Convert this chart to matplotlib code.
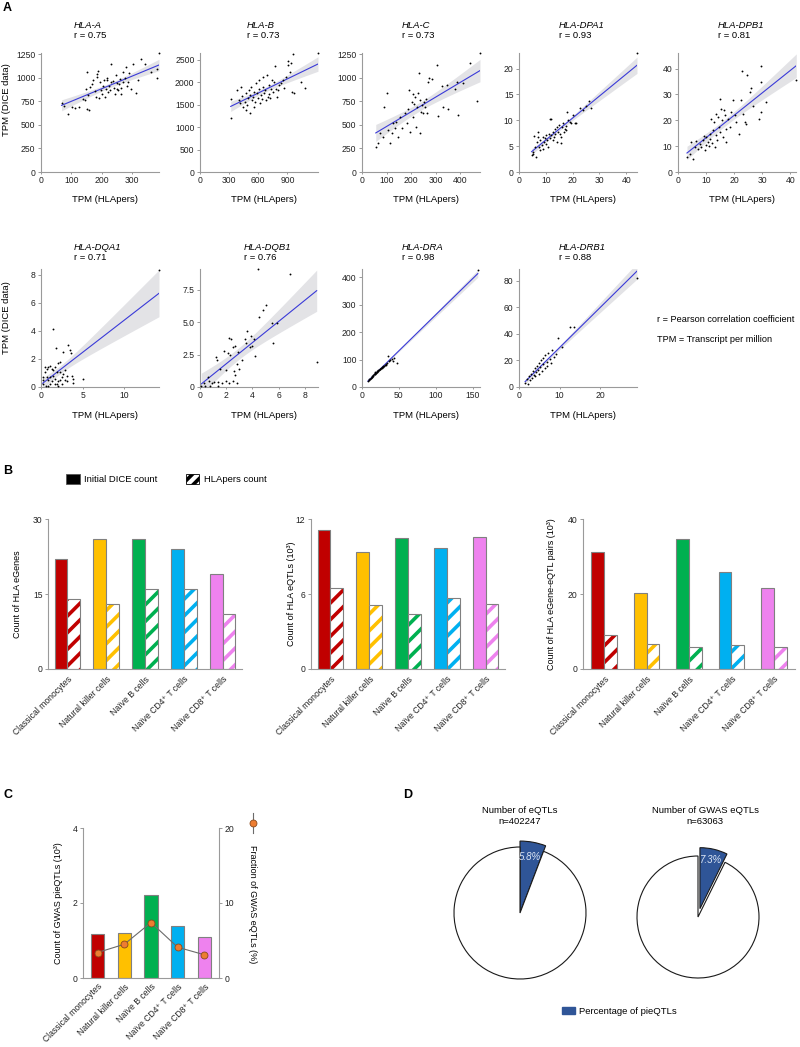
import numpy as np
import matplotlib
matplotlib.use("Agg")
import matplotlib.pyplot as plt
from matplotlib.patches import Patch
from matplotlib.lines import Line2D

plt.rcParams['font.family'] = ['Liberation Sans', 'DejaVu Sans']
plt.rcParams['font.size'] = 6.5
plt.rcParams['hatch.linewidth'] = 2.6

W, H = 800, 1047

# ---------------- panel A: TPM HLApers vs TPM DICE ----------------
hla_a_x = [68, 90, 77, 101, 112, 127, 140, 145, 153, 148, 156, 162, 160, 153, 167, 171, 178, 182, 184, 186,
           189, 195, 193, 199, 202, 206, 208, 211, 215, 217, 219, 222, 226, 228, 231, 233, 239, 242, 244, 248,
           250, 252, 255, 258, 261, 264, 266, 270, 272, 277, 281, 283, 288, 292, 299, 314, 305, 321, 332, 343,
           365, 382, 385, 390]
hla_a_y = [733, 612, 697, 690, 683, 690, 779, 761, 1062, 885, 814, 903, 655, 666, 938, 973, 860, 796, 1009, 1037,
           1069, 956, 789, 867, 832, 910, 973, 796, 885, 1002, 980, 850, 910, 874, 1144, 956, 963, 896, 832, 1027,
           885, 945, 867, 931, 991, 832, 896, 1062, 956, 1002, 1115, 910, 956, 1051, 885, 839, 1150, 973, 1204, 1150,
           1062, 1097, 1002, 1265]

hla_b_x = [316, 323, 381, 402, 408, 425, 435, 442, 459, 469, 476, 483, 493, 503, 510, 517, 527, 537, 544, 551,
           561, 571, 578, 585, 595, 605, 612, 619, 629, 636, 646, 653, 663, 673, 680, 690, 697, 707, 714, 721,
           731, 741, 748, 765, 775, 782, 792, 799, 816, 833, 850, 867, 884, 901, 911, 925, 935, 952, 958, 969,
           1037, 1081, 1215]
hla_b_y = [1619, 1194, 1828, 1604, 1529, 1902, 1694, 1455, 1567, 1753, 1380, 1492, 1641, 1828, 1306, 1716, 1887, 1604, 1678, 1455,
           1790, 1567, 1977, 1753, 1641, 1843, 2052, 1529, 1716, 1619, 1902, 2111, 1753, 1828, 1604, 2163, 1678, 1940, 1738, 1641,
           1843, 2052, 1790, 2015, 2365, 1843, 1678, 1828, 1940, 1977, 2052, 1865, 2126, 2387, 2462, 2238, 2424, 1790, 2620, 1753,
           2015, 1865, 2650]

hla_c_x = [56, 64, 100, 90, 73, 87, 107, 121, 127, 134, 114, 148, 138, 155, 161, 175, 182, 188, 193, 195,
           202, 206, 209, 212, 216, 220, 223, 229, 234, 236, 239, 243, 250, 252, 256, 260, 263, 232, 270, 274,
           283, 304, 324, 328, 345, 351, 311, 385, 378, 392, 412, 440, 469, 480]
hla_c_y = [268, 304, 840, 688, 413, 374, 445, 410, 516, 463, 304, 374, 533, 586, 463, 622, 516, 675, 869, 427,
           745, 834, 586, 728, 798, 480, 692, 845, 763, 416, 639, 710, 622, 745, 692, 781, 622, 1053, 957, 1004,
           993, 1142, 912, 692, 922, 675, 594, 957, 877, 604, 946, 1158, 752, 1265]

hla_dpa1_x = [5.3, 6.5, 5.9, 6.8, 7.2, 7.5, 7.8, 8.0, 8.4, 8.8, 9.0, 9.3, 9.6, 10.0, 10.2, 10.5, 10.9, 11.2, 11.5, 11.7,
              12.1, 12.5, 12.7, 13.0, 13.3, 13.6, 14.0, 14.2, 14.6, 14.9, 15.2, 15.6, 15.8, 16.2, 16.4, 16.7, 17.0, 17.4, 17.7, 18.0,
              18.3, 18.9, 19.5, 20.1, 20.7, 21.4, 22.6, 23.8, 25.1, 26.0, 26.9, 4.7, 5.1, 5.6, 7.2, 12.1, 44.0]
hla_dpa1_y = [3.9, 2.9, 4.8, 5.8, 6.8, 4.8, 4.2, 6.1, 5.2, 6.8, 4.5, 5.8, 6.5, 5.5, 7.1, 6.1, 4.8, 7.4, 6.5, 10.3,
              7.1, 7.7, 6.1, 6.8, 8.4, 7.4, 5.8, 8.7, 7.7, 9.0, 7.4, 6.8, 5.6, 8.7, 9.4, 7.7, 8.4, 8.8, 8.2, 11.6,
              10.0, 9.7, 9.4, 11.0, 9.5, 9.4, 12.3, 11.9, 12.7, 13.7, 12.3, 3.2, 3.5, 6.9, 7.7, 10.3, 23.0]

hla_dpb1_x = [3.2, 5.3, 4.2, 4.7, 6.3, 5.9, 7.1, 7.7, 8.3, 8.9, 9.5, 9.1, 9.8, 10.1, 10.7, 11.0, 11.3, 11.5, 11.9, 12.2,
              12.5, 12.7, 13.0, 13.4, 13.6, 13.9, 14.2, 14.6, 14.8, 15.1, 15.4, 15.8, 16.0, 16.3, 16.6, 17.0, 17.2, 17.8, 18.4, 19.0,
              19.6, 20.2, 20.8, 21.7, 22.5, 23.1, 23.7, 24.3, 22.9, 24.6, 25.5, 26.1, 26.7, 28.8, 29.7, 29.7, 29.7, 31.4, 42.1]
hla_dpb1_y = [5.8, 5.2, 7.1, 11.6, 12.0, 9.7, 9.0, 11.0, 9.7, 12.3, 8.4, 13.8, 10.3, 13.5, 11.6, 9.9, 14.8, 12.9, 20.6, 11.2,
              16.1, 19.4, 9.7, 14.2, 22.6, 12.3, 21.3, 17.4, 28.4, 15.5, 24.5, 20.0, 13.5, 23.9, 21.9, 16.8, 11.6, 20.6, 17.4, 23.2,
              27.7, 21.9, 19.4, 14.8, 28.0, 22.6, 19.4, 18.7, 39.2, 37.4, 31.0, 32.6, 25.4, 20.3, 23.2, 34.8, 40.9, 27.1, 35.5]

hla_dqa1_x = [1.5, 1.8, 3.3, 3.5, 3.6, 2.7, 2.3, 0.7, 0.9, 1.1, 1.3, 1.5, 1.7, 1.9, 2.1, 0.5, 0.7, 0.9, 1.1, 1.3,
              1.5, 1.7, 1.9, 2.1, 2.3, 2.5, 2.7, 2.9, 3.1, 2.5, 3.1, 0.3, 0.2, 0.6, 0.9, 1.1, 1.7, 2.1, 2.9, 3.7,
              3.8, 3.9, 5.0, 0.3, 0.5, 2.3, 14.2]
hla_dqa1_y = [4.1, 2.8, 3.0, 2.6, 2.4, 2.5, 1.8, 1.3, 1.4, 1.5, 1.3, 1.2, 1.4, 1.1, 1.7, 1.1, 0.7, 0.5, 0.7, 0.4,
              0.8, 0.6, 0.2, 0.4, 0.5, 0.7, 0.9, 1.2, 0.8, 0.2, 0.4, 0.2, 0.5, 0.1, 0.1, 0.2, 0.2, 0.1, 0.5, 0.8,
              0.6, 0.3, 0.6, 0.7, 1.4, 1.1, 8.3]

hla_dqb1_x = [4.4, 6.9, 5.0, 4.8, 4.5, 5.5, 5.9, 5.6, 3.6, 3.4, 3.5, 3.9, 4.1, 4.0, 3.8, 4.2, 2.2, 2.4, 1.8, 2.1,
              2.3, 2.5, 2.7, 2.8, 2.9, 1.2, 1.3, 1.5, 2.0, 2.6, 2.7, 2.8, 2.5, 2.2, 2.0, 1.7, 1.4, 1.1, 0.9, 0.7,
              0.6, 0.3, 0.1, 0.4, 0.8, 1.4, 3.0, 3.2, 8.9]
hla_dqb1_y = [9.1, 8.7, 6.3, 5.9, 5.4, 4.9, 4.9, 3.4, 4.3, 3.7, 3.4, 3.9, 3.7, 3.2, 3.1, 2.4, 3.8, 3.7, 2.8, 2.6,
              2.5, 3.1, 3.2, 1.8, 2.7, 2.3, 2.1, 1.4, 1.3, 1.2, 0.9, 0.3, 0.5, 0.3, 0.5, 0.3, 0.1, 0.4, 0.3, 0.5,
              0.8, 0.3, 0.1, 0.1, 0.1, 0.4, 1.4, 2.1, 1.9]

hla_dra_x = [8, 9, 10, 11, 12, 12, 13, 14, 14, 15, 15, 16, 17, 17, 18, 18, 19, 20, 20, 21,
             22, 22, 23, 24, 24, 25, 26, 27, 27, 28, 29, 30, 31, 32, 33, 34, 35, 36, 38, 40,
             42, 44, 47, 157]
hla_dra_y = [22, 25, 28, 30, 31, 34, 35, 38, 40, 41, 44, 46, 46, 49, 50, 53, 52, 55, 58, 56,
             60, 63, 62, 64, 67, 66, 70, 69, 73, 74, 75, 78, 81, 80, 85, 88, 112, 95, 98, 103,
             94, 107, 88, 425]

hla_drb1_x = [1.5, 2.0, 2.2, 2.5, 2.8, 3.0, 3.2, 3.5, 3.7, 4.0, 4.0, 4.3, 4.5, 4.7, 5.0, 5.0, 5.2, 5.5, 5.7, 6.0,
              6.0, 6.3, 6.5, 6.8, 7.0, 7.2, 7.5, 7.8, 8.0, 8.5, 9.0, 9.7, 10.5, 12.6, 13.4, 29.0]
hla_drb1_y = [3, 6, 2, 8, 5, 10, 7, 12, 9, 14, 8, 11, 16, 13, 18, 10, 15, 20, 12, 17,
              22, 14, 24, 19, 16, 26, 21, 18, 28, 23, 25, 37, 30, 45, 45, 82]

# ---------------- panel B / C: per cell type counts ----------------
cell_types = ['Classical monocytes', 'Natural killer cells', 'Naïve B cells',
              'Naïve CD4⁺ T cells', 'Naïve CD8⁺ T cells']
cell_colors = ['#C00000', '#FFC000', '#00B050', '#00B0F0', '#EE82EE']

egenes_dice = [22, 26, 26, 24, 19]
egenes_hlapers = [14, 13, 16, 16, 11]
eqtls_dice = [11.1, 9.4, 10.5, 9.7, 10.6]
eqtls_hlapers = [6.5, 5.1, 4.4, 5.7, 5.2]
pairs_dice = [31.2, 20.3, 34.7, 26.0, 21.5]
pairs_hlapers = [9.2, 6.8, 5.9, 6.3, 5.9]

gwas_pieqtls = [1.17, 1.19, 2.21, 1.39, 1.09]
gwas_fraction = [3.4, 4.5, 7.4, 4.1, 3.1]

# ---------------- panel D: pies ----------------
pie_pct = [5.8, 7.3]
pie_titles = ['Number of eQTLs\nn=402247', 'Number of GWAS eQTLs\nn=63063']

GREY = '#9a9a9a'
TICK_FS = 6.2
LABEL_FS = 6.8


def rect(x0, y0, x1, y1):
    # pixel box -> figure fraction
    return [x0 / W, 1 - y1 / H, (x1 - x0) / W, (y1 - y0) / H]


def ftext(fig, x, y, s, **kw):
    fig.text(x / W, 1 - y / H, s, **kw)


def style_axis(ax, right=False):
    for sp in ['top', 'right', 'left', 'bottom']:
        ax.spines[sp].set_visible(False)
    for sp in (['right', 'bottom'] if right else ['left', 'bottom']):
        ax.spines[sp].set_visible(True)
        ax.spines[sp].set_color(GREY)
        ax.spines[sp].set_linewidth(0.8)
    ax.tick_params(length=2.5, width=0.7, color=GREY, labelsize=TICK_FS, pad=1.5, labelcolor='#222222')


def scatter_panel(fig, box, x, y, xlim, ylim, xticks, yticks, yticklabels=None):
    ax = fig.add_axes(rect(*box))
    x = np.asarray(x, float)
    y = np.asarray(y, float)
    n = len(x)
    b1, b0 = np.polyfit(x, y, 1)
    xs = np.linspace(x.min(), x.max(), 100)
    yh = b0 + b1 * xs
    s = np.sqrt(((y - (b0 + b1 * x)) ** 2).sum() / (n - 2))
    se = s * np.sqrt(1 / n + (xs - x.mean()) ** 2 / ((x - x.mean()) ** 2).sum())
    ax.fill_between(xs, yh - 1.99 * se, yh + 1.99 * se, color='#dcdce0', alpha=0.8, lw=0)
    ax.plot(xs, yh, color='#3a3ad8', lw=0.8)
    ax.scatter(x, y, s=1.8, c='black', lw=0, clip_on=False, zorder=3)
    ax.set_xlim(*xlim)
    ax.set_ylim(*ylim)
    ax.set_xticks(xticks)
    ax.set_yticks(yticks)
    if yticklabels:
        ax.set_yticklabels(yticklabels)
    style_axis(ax)
    ax.tick_params(axis='x', length=1.5)
    return ax


def count_panel(fig, box, solid, hatched, yticks, ylabel, ylabel_x, w=0.33):
    ax = fig.add_axes(rect(*box))
    pos = np.arange(len(cell_types))
    ax.bar(pos - w / 2, solid, w, color=cell_colors, edgecolor='#808080', lw=0.8)
    ax.bar(pos + w / 2, hatched, w, color='white', edgecolor=cell_colors, hatch='//', lw=0)
    ax.bar(pos + w / 2, hatched, w, fill=False, edgecolor='#808080', lw=0.8)
    ax.set_xlim(-0.5, len(cell_types) - 0.5)
    ax.set_ylim(0, yticks[-1])
    ax.set_yticks(yticks)
    ax.set_xticks(pos)
    ax.set_xticklabels(cell_types, rotation=45, ha='right', va='top', rotation_mode='anchor', fontsize=6.5)
    style_axis(ax)
    ax.tick_params(axis='x', length=0, pad=4)
    ftext(fig, ylabel_x, (box[1] + box[3]) / 2, ylabel, rotation=90, ha='center', va='center', fontsize=6.5)
    return ax


def main():
    fig = plt.figure(figsize=(W / 100, H / 100), dpi=100)

    # ---- A ----
    ftext(fig, 3, 8, 'A', fontsize=9, fontweight='bold', va='center')
    genes = [
        ('HLA-A', 'r = 0.75', hla_a_x, hla_a_y, (0, 390), (0, 1265), [0, 100, 200, 300], [0, 250, 500, 750, 1000, 1250], None),
        ('HLA-B', 'r = 0.73', hla_b_x, hla_b_y, (0, 1215), (0, 2650), [0, 300, 600, 900], [0, 500, 1000, 1500, 2000, 2500], None),
        ('HLA-C', 'r = 0.73', hla_c_x, hla_c_y, (0, 480), (0, 1265), [0, 100, 200, 300, 400], [0, 250, 500, 750, 1000, 1250], None),
        ('HLA-DPA1', 'r = 0.93', hla_dpa1_x, hla_dpa1_y, (0, 44), (0, 23), [0, 10, 20, 30, 40], [0, 5, 10, 15, 20], None),
        ('HLA-DPB1', 'r = 0.81', hla_dpb1_x, hla_dpb1_y, (0, 42), (0, 46), [0, 10, 20, 30, 40], [0, 10, 20, 30, 40], None),
        ('HLA-DQA1', 'r = 0.71', hla_dqa1_x, hla_dqa1_y, (0, 14.2), (0, 8.4), [0, 5, 10], [0, 2, 4, 6, 8], None),
        ('HLA-DQB1', 'r = 0.76', hla_dqb1_x, hla_dqb1_y, (0, 9.0), (0, 9.1), [0, 2, 4, 6, 8], [0, 2.5, 5.0, 7.5], ['0', '2.5', '5.0', '7.5']),
        ('HLA-DRA', 'r = 0.98', hla_dra_x, hla_dra_y, (0, 160), (0, 430), [0, 50, 100, 150], [0, 100, 200, 300, 400], None),
        ('HLA-DRB1', 'r = 0.88', hla_drb1_x, hla_drb1_y, (0, 29), (0, 89), [0, 10, 20], [0, 20, 40, 60, 80], None),
    ]
    lefts = [41, 200, 362, 519, 678, 41, 200, 362, 519]
    title_off = [33, 47, 40, 40, 40, 33, 44, 40, 40]
    for i, (g, r, x, y, xl, yl, xt, yt, ytl) in enumerate(genes):
        row = i // 5
        top, bot = (53, 172) if row == 0 else (269, 387)
        left = lefts[i]
        scatter_panel(fig, (left, top, left + 118, bot), x, y, xl, yl, xt, yt, ytl)
        gy, ry = (25, 35) if row == 0 else (248, 258)
        ftext(fig, left + title_off[i], gy, g, style='italic', fontsize=LABEL_FS, va='center')
        ftext(fig, left + title_off[i], ry, r, fontsize=LABEL_FS, va='center')
        ftext(fig, left + 64, 199 if row == 0 else 416, 'TPM (HLApers)', fontsize=LABEL_FS, ha='center', va='center')
    ftext(fig, 7, 100, 'TPM (DICE data)', rotation=90, fontsize=LABEL_FS, ha='center', va='center')
    ftext(fig, 7, 318, 'TPM (DICE data)', rotation=90, fontsize=LABEL_FS, ha='center', va='center')
    ftext(fig, 657, 320, 'r = Pearson correlation coefficient', fontsize=6.6, va='center')
    ftext(fig, 657, 340, 'TPM = Transcript per million', fontsize=6.6, va='center')

    # ---- B ----
    ftext(fig, 3, 471, 'B', fontsize=9, fontweight='bold', va='center')
    count_panel(fig, (48, 519, 242, 669), egenes_dice, egenes_hlapers, [0, 15, 30], 'Count of HLA eGenes', 18)
    count_panel(fig, (311, 519, 505, 669), eqtls_dice, eqtls_hlapers, [0, 6, 12], 'Count of HLA eQTLs (10³)', 292)
    count_panel(fig, (583, 519, 795, 669), pairs_dice, pairs_hlapers, [0, 20, 40], 'Count of HLA eGene-eQTL pairs (10³)', 552, w=0.3)
    handles = [Patch(facecolor='black', edgecolor='#555555', lw=0.6),
               Patch(facecolor='white', edgecolor='black', hatch='///', lw=0.6)]
    fig.legend(handles, ['Initial DICE count', 'HLApers count'], loc='center left',
               bbox_to_anchor=(58 / W, 1 - 479 / H), ncol=2, frameon=False, fontsize=LABEL_FS,
               handlelength=1.4, handleheight=1.4, handletextpad=0.5, columnspacing=3.0)

    # ---- C ----
    ftext(fig, 3, 795, 'C', fontsize=9, fontweight='bold', va='center')
    ax = fig.add_axes(rect(83, 828, 219, 978))
    pos = np.arange(len(cell_types))
    ax.bar(pos, gwas_pieqtls, 0.5, color=cell_colors, edgecolor='#808080', lw=0.8)
    ax.set_xlim(-0.55, 4.55)
    ax.set_ylim(0, 4)
    ax.set_yticks([0, 2, 4])
    ax.set_xticks(pos)
    ax.set_xticklabels(cell_types, rotation=45, ha='right', va='top', rotation_mode='anchor', fontsize=6.3)
    style_axis(ax)
    ax.tick_params(axis='x', length=0, pad=3)
    ax.set_ylabel('Count of GWAS pieQTLs (10³)', fontsize=6.5, labelpad=7)
    ax2 = ax.twinx()
    ax2.plot(pos, gwas_fraction, color='#6b6b6b', lw=0.8, marker='o', ms=5,
             mfc='#ED7D31', mec='#8a4a1c', mew=0.6)
    ax2.set_ylim(0, 20)
    ax2.set_yticks([0, 10, 20])
    style_axis(ax2, right=True)
    ax2.spines['bottom'].set_visible(False)
    fig.add_artist(Line2D([253 / W, 253 / W], [1 - 813 / H, 1 - 833 / H], color='#6b6b6b', lw=0.8))
    fig.add_artist(Line2D([253 / W], [1 - 823 / H], marker='o', ms=5, mfc='#ED7D31', mec='#8a4a1c', mew=0.6))
    ftext(fig, 253, 845, 'Fraction of GWAS eQTLs (%)', rotation=270, ha='center', va='top', fontsize=6.5)

    # ---- D ----
    ftext(fig, 403, 795, 'D', fontsize=9, fontweight='bold', va='center')
    centers = [(520, 913, 66), (698, 917, 61)]
    explode = [0.0, 0.14]
    grow = [1.09, 1.0]
    for k, pct in enumerate(pie_pct):
        cx, cy, r = centers[k]
        half = 1.25 * r
        pax = fig.add_axes(rect(cx - half, cy - half, cx + half, cy + half))
        wedges, _, autotexts = pax.pie(
            [pct, 100 - pct], colors=['#2F5597', 'white'], startangle=90, counterclock=False,
            explode=[explode[k], 0], autopct=lambda p: f'{p:.1f}%' if p < 50 else '',
            pctdistance=0.86 if k == 0 else 0.82,
            wedgeprops=dict(edgecolor='#1a1a1a', lw=0.8),
            textprops=dict(color='#dce6f5', fontsize=7, style='italic'))
        wedges[0].set_radius(grow[k])
        pax.set_xlim(-1.25, 1.25)
        pax.set_ylim(-1.25, 1.25)
        ftext(fig, cx if k == 0 else 705, 816, pie_titles[k], ha='center', va='center', fontsize=LABEL_FS,
              linespacing=1.15)
    fig.legend([Patch(facecolor='#2F5597', edgecolor='#2F5597')], ['Percentage of pieQTLs'],
               loc='center left', bbox_to_anchor=(553 / W, 1 - 1011 / H), frameon=False, fontsize=LABEL_FS,
               handlelength=1.4, handleheight=0.8, handletextpad=0.5)

    fig.savefig('out.png', dpi=100)
    plt.close(fig)


if __name__ == '__main__':
    main()
